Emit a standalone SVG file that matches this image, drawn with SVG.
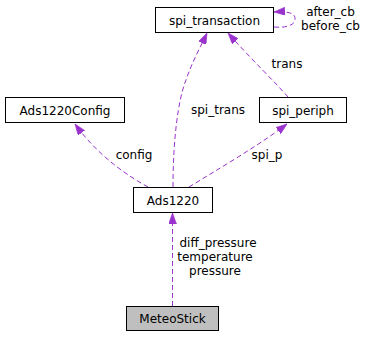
<svg xmlns="http://www.w3.org/2000/svg" width="368" height="337" viewBox="0 0 368 337">
  <style>
    .box { fill: #ffffff; stroke: #000000; stroke-width: 1; }
    .box.sel { fill: #bfbfbf; }
    .lbl { font-family: "DejaVu Sans", "Liberation Sans", sans-serif; font-size: 12px; fill: #000000; text-anchor: middle; }
    .edge { fill: none; stroke: #9a32cd; stroke-width: 1; stroke-dasharray: 5,3; }
  </style>
  <defs>
    <marker id="head" viewBox="0 0 11 8" refX="11" refY="4" markerWidth="11" markerHeight="8" markerUnits="userSpaceOnUse" orient="auto">
      <polygon points="0,0 11,4 0,8" fill="#9a32cd" stroke="#9a32cd" stroke-width="0.6"/>
    </marker>
  </defs>

  <!-- connectors -->
  <g id="edges">
    <path class="edge" d="M172.5,306 L172.5,213" marker-end="url(#head)"/>
    <text class="lbl" x="218" y="247">diff_pressure</text>
    <text class="lbl" x="215" y="261">temperature</text>
    <text class="lbl" x="215" y="275">pressure</text>

    <path class="edge" d="M148,187 C128,176 98,156 75,124" marker-end="url(#head)"/>
    <text class="lbl" x="134" y="159">config</text>

    <path class="edge" d="M189,187 C215,171 258,146 287,124" marker-end="url(#head)"/>
    <text class="lbl" x="267" y="159">spi_p</text>

    <path class="edge" d="M173,187 C173,140 178,100 186,80 C192,62 200,48 207,33" marker-end="url(#head)"/>
    <text class="lbl" x="218" y="114">spi_trans</text>

    <path class="edge" d="M288,97 C275,82 250,58 228,33" marker-end="url(#head)"/>
    <text class="lbl" x="287" y="68">trans</text>

    <path class="edge" d="M274,27 C284,28 294,26 295,20 C296,13 288,11 274,12" marker-end="url(#head)"/>
    <text class="lbl" x="330.5" y="16">after_cb</text>
    <text class="lbl" x="330.5" y="30">before_cb</text>
  </g>

  <!-- nodes -->
  <g id="spi_transaction">
    <rect class="box" x="155.5" y="7.5" width="118" height="25"/>
    <text class="lbl" x="214.5" y="24.5">spi_transaction</text>
  </g>
  <g id="Ads1220Config">
    <rect class="box" x="5.5" y="97.5" width="119" height="25"/>
    <text class="lbl" x="65" y="114.5">Ads1220Config</text>
  </g>
  <g id="spi_periph">
    <rect class="box" x="259.5" y="97.5" width="87" height="25"/>
    <text class="lbl" x="303" y="114.5">spi_periph</text>
  </g>
  <g id="Ads1220">
    <rect class="box" x="133.5" y="187.5" width="79" height="25"/>
    <text class="lbl" x="173" y="204.5">Ads1220</text>
  </g>
  <g id="MeteoStick">
    <rect class="box sel" x="126.5" y="306.5" width="92" height="24"/>
    <text class="lbl" x="172.5" y="323">MeteoStick</text>
  </g>
</svg>
